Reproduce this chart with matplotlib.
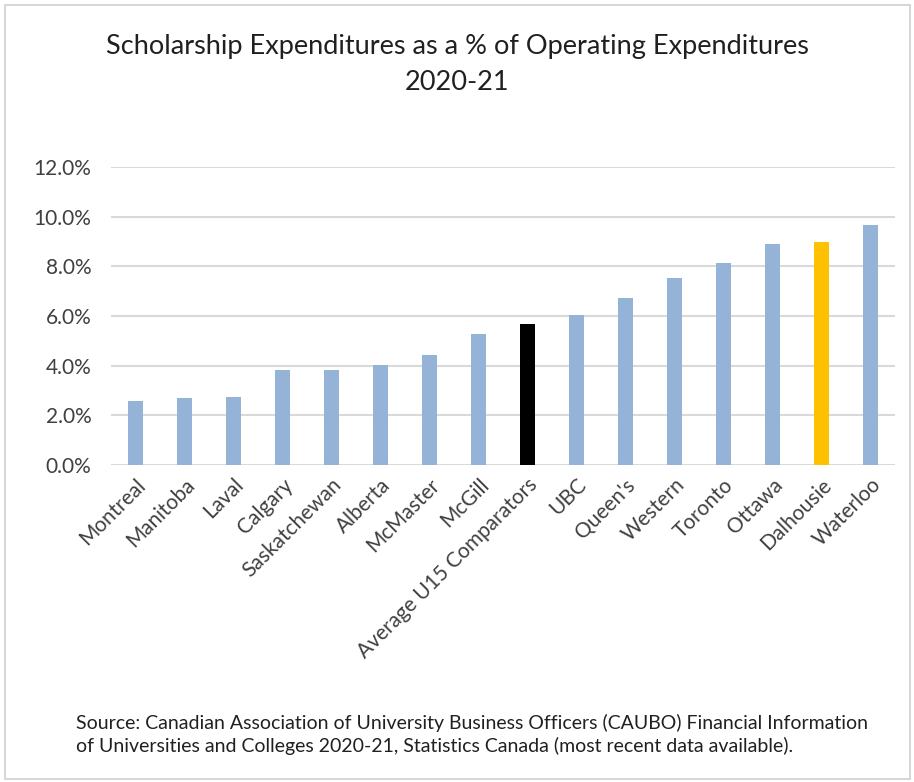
import matplotlib.pyplot as plt
from matplotlib.patches import Rectangle

schools = ["Montreal", "Manitoba", "Laval", "Calgary", "Saskatchewan", "Alberta",
           "McMaster", "McGill", "Average U15 Comparators", "UBC", "Queen's",
           "Western", "Toronto", "Ottawa", "Dalhousie", "Waterloo"]
pct = [2.57, 2.68, 2.72, 3.82, 3.82, 4.01, 4.43, 5.26, 5.68, 6.04, 6.72,
       7.55, 8.12, 8.90, 8.99, 9.66]
yticks = [0, 2, 4, 6, 8, 10, 12]

BLUE = "#95b3d7"
colors = [BLUE] * len(schools)
colors[schools.index("Average U15 Comparators")] = "#000000"
colors[schools.index("Dalhousie")] = "#ffc000"

plt.rcParams['font.family'] = ['Lato', 'DejaVu Sans']

fig = plt.figure(figsize=(9.14, 7.82), dpi=100)
fig.patches.append(Rectangle((0.006, 0.004), 0.99, 0.99, transform=fig.transFigure,
                             fill=False, edgecolor="#d0d0d0", linewidth=1.2))

ax = fig.add_axes([0.1214, 0.4054, 0.8576, 0.381])
x = range(len(schools))
ax.bar(x, pct, width=0.31, color=colors, zorder=3)
ax.set_xlim(-0.5, len(schools) - 0.5)
ax.set_ylim(0, 12)
ax.set_yticks(yticks)
ax.set_yticklabels([f"{v:.1f}%" for v in yticks], fontsize=15, color="#404040")
ax.set_xticks(list(x))
ax.set_xticklabels(schools, rotation=45, ha="right", rotation_mode="anchor",
                   fontsize=15, color="#404040")
ax.tick_params(axis="y", length=0, pad=14)
ax.tick_params(axis="x", length=0, pad=7)
ax.grid(axis="y", color="#d9d9d9", linewidth=1.5, zorder=0)
for s in ax.spines.values():
    s.set_visible(False)

fig.text(0.5, 0.94, "Scholarship Expenditures as a % of Operating Expenditures",
         ha="center", va="center", fontsize=19.5, color="#202020")
fig.text(0.5, 0.895, "2020-21", ha="center", va="center", fontsize=19.5, color="#202020")

fig.text(0.083, 0.061, "Source: Canadian Association of University Business Officers (CAUBO) Financial Information\n"
         "of Universities and Colleges 2020-21, Statistics Canada (most recent data available).",
         ha="left", va="center", fontsize=14, color="#202020", linespacing=1.3)

fig.savefig("out.png", dpi=100)
